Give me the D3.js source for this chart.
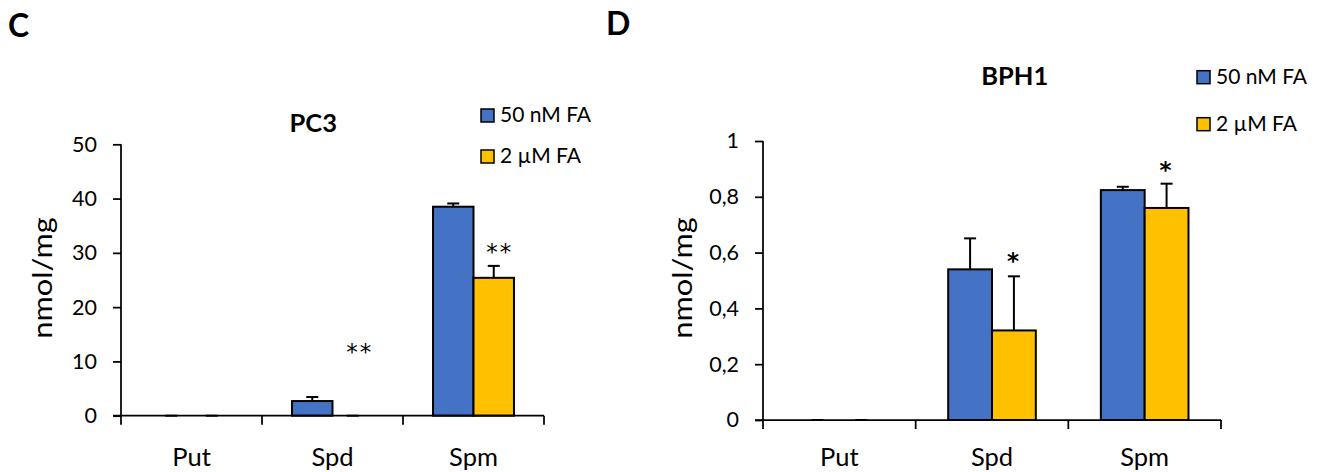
<!DOCTYPE html>
<html>
<head>
<meta charset="utf-8">
<script src="https://cdn.jsdelivr.net/npm/d3@7"></script>
<style>
  html, body { margin: 0; padding: 0; background: #fff; }
  svg { display: block; }
  text { font-family: Lato, "Open Sans", sans-serif; fill: #000; }
</style>
</head>
<body>
<svg id="fig" width="1324" height="472"></svg>
<script>
// Polyamine content (nmol/mg) under two folic acid conditions
const categories = ["Put", "Spd", "Spm"];
const seriesNames = ["50 nM FA", "2 µM FA"];
const seriesColors = ["#4472C4", "#FFC000"];

// PC3 cells
const pc3Low = [0, 2.7, 38.5];
const pc3LowErr = [0, 0.75, 0.6];
const pc3High = [0, 0, 25.4];
const pc3HighErr = [0, 0, 2.2];
const pc3Stars = ["", "**", "**"];
const pc3StarAt = [null, 12.8, 31.2];
const pc3Ticks = [0, 10, 20, 30, 40, 50];
const pc3TickLabels = ["0", "10", "20", "30", "40", "50"];

// BPH1 cells
const bphLow = [0, 0.54, 0.824];
const bphLowErr = [0, 0.111, 0.012];
const bphHigh = [0, 0.321, 0.76];
const bphHighErr = [0, 0.194, 0.087];
const bphStars = ["", "*", "*"];
const bphStarAt = [null, 0.59, 0.916];
const bphTicks = [0, 0.2, 0.4, 0.6, 0.8, 1];
const bphTickLabels = ["0", "0,2", "0,4", "0,6", "0,8", "1"];

const svg = d3.select("#fig");

function drawPanel(p) {
  const g = svg.append("g");
  const x0 = d3.scaleBand().domain(categories).range([p.left, p.right]).padding(0);
  const x1 = d3.scaleBand().domain(seriesNames).range([0, x0.bandwidth()])
    .paddingInner(0).paddingOuter(0.742);
  const y = d3.scaleLinear().domain([0, p.yMax]).range([p.bottom, p.top]);

  const rows = [];
  categories.forEach((c, i) => {
    rows.push({ cat: c, s: 0, v: p.low[i], e: p.lowErr[i] });
    rows.push({ cat: c, s: 1, v: p.high[i], e: p.highErr[i] });
  });

  // bars
  g.selectAll("rect.bar").data(rows.filter(d => d.v > 0)).join("rect")
    .attr("class", "bar")
    .attr("x", d => x0(d.cat) + x1(seriesNames[d.s]))
    .attr("width", x1.bandwidth())
    .attr("y", d => y(d.v))
    .attr("height", d => y(0) - y(d.v))
    .attr("fill", d => seriesColors[d.s])
    .attr("stroke", "#000").attr("stroke-width", 2);

  // error bars (upper only)
  const cx = d => x0(d.cat) + x1(seriesNames[d.s]) + x1.bandwidth() / 2;
  g.selectAll("line.err").data(rows.filter(d => d.e > 0)).join("line")
    .attr("class", "err")
    .attr("x1", cx).attr("x2", cx)
    .attr("y1", d => y(d.v)).attr("y2", d => y(d.v + d.e))
    .attr("stroke", "#000").attr("stroke-width", 2);
  g.selectAll("line.cap").data(rows).join("line")
    .attr("class", "cap")
    .attr("x1", d => cx(d) - 6).attr("x2", d => cx(d) + 6)
    .attr("y1", d => y(d.v + d.e)).attr("y2", d => y(d.v + d.e))
    .attr("stroke", "#000").attr("stroke-width", 2);

  // y axis
  const yAxis = d3.axisLeft(y).tickValues(p.ticks)
    .tickFormat((d, i) => p.tickLabels[i]).tickSize(8).tickPadding(16);
  const ya = g.append("g").attr("transform", `translate(${p.left},0)`).call(yAxis);
  ya.select(".domain").attr("d", `M0,${p.top}V${p.bottom}`).attr("stroke-width", 1.75);
  ya.selectAll(".tick line").attr("stroke-width", 1.75);
  ya.selectAll(".tick text").style("font-family", "Lato").style("font-size", "21.5px");

  // x axis with boundary ticks
  const xa = g.append("g").attr("transform", `translate(0,${p.bottom})`);
  xa.append("line").attr("x1", p.left - 8).attr("x2", p.right)
    .attr("stroke", "#000").attr("stroke-width", 1.75);
  const bounds = categories.map(c => x0(c)).concat([p.right]);
  xa.selectAll("line.bt").data(bounds).join("line").attr("class", "bt")
    .attr("x1", d => d).attr("x2", d => d).attr("y1", 0).attr("y2", 9)
    .attr("stroke", "#000").attr("stroke-width", 1.75);
  xa.selectAll("text.cat").data(categories).join("text").attr("class", "cat")
    .attr("x", d => x0(d) + x0.bandwidth() / 2).attr("y", p.catBaseline - p.bottom)
    .attr("text-anchor", "middle").style("font-size", "25.5px").text(d => d);

  // significance marks on the 2 µM series
  const starX = i => x0(categories[i]) + x1(seriesNames[1]) + x1.bandwidth() / 2 + p.starShift[i];
  g.selectAll("text.star").data(p.stars.map((s, i) => ({ s, i })).filter(d => d.s)).join("text")
    .attr("class", "star")
    .attr("x", d => starX(d.i)).attr("y", d => y(p.starAt[d.i]) + 13.5)
    .attr("text-anchor", "middle")
    .style("font-family", "'DejaVu Sans', sans-serif")
    .style("font-size", "23px").style("font-weight", p.starWeight)
    .style("letter-spacing", "2px").text(d => d.s);

  // axis title
  g.append("text")
    .attr("transform", `translate(${p.yLabelX},278) rotate(-90) scale(1.16,1)`)
    .attr("text-anchor", "middle").style("font-size", "26.5px").text("nmol/mg");

  // chart title
  g.append("text").attr("x", p.titleX).attr("y", p.titleY)
    .attr("text-anchor", "middle").style("font-size", "25.5px").style("font-weight", "bold")
    .text(p.title);

  // legend
  const lg = g.selectAll("g.leg").data(seriesNames).join("g").attr("class", "leg")
    .attr("transform", (d, i) => `translate(${p.legX},${p.legY + i * p.legGap})`);
  lg.append("rect").attr("x", 0).attr("y", 0).attr("width", 13).attr("height", 13)
    .attr("fill", (d, i) => seriesColors[i]).attr("stroke", "#000").attr("stroke-width", 1.5);
  lg.append("text").attr("x", 19).attr("y", 13.3).style("font-size", "21px").text(d => d);

  // panel letter
  svg.append("text").attr("x", p.letterX).attr("y", p.letterY)
    .style("font-size", "32px").style("font-weight", "bold").text(p.letter);
}

drawPanel({
  left: 121, right: 544, top: 144.3, bottom: 415.7, yMax: 50,
  low: pc3Low, lowErr: pc3LowErr, high: pc3High, highErr: pc3HighErr,
  ticks: pc3Ticks, tickLabels: pc3TickLabels,
  stars: pc3Stars, starAt: pc3StarAt, starShift: [0, 7, 6], starWeight: "normal",
  catBaseline: 466, yLabelX: 51.5,
  title: "PC3", titleX: 313.3, titleY: 131.7,
  legX: 481, legY: 109, legGap: 41,
  letter: "C", letterX: 8, letterY: 36.7
});

drawPanel({
  left: 763, right: 1221, top: 141, bottom: 420, yMax: 1,
  low: bphLow, lowErr: bphLowErr, high: bphHigh, highErr: bphHighErr,
  ticks: bphTicks, tickLabels: bphTickLabels,
  stars: bphStars, starAt: bphStarAt, starShift: [0, 0, 0], starWeight: "bold",
  catBaseline: 466, yLabelX: 691.5,
  title: "BPH1", titleX: 1014.7, titleY: 85,
  legX: 1197, legY: 70.7, legGap: 47,
  letter: "D", letterX: 606, letterY: 35
});
</script>
</body>
</html>
